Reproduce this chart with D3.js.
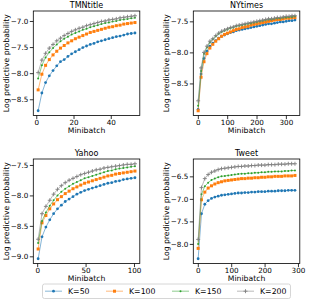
<!DOCTYPE html>
<html>
<head>
<meta charset="utf-8">
<script src="https://cdn.jsdelivr.net/npm/d3@7"></script>
<style>
  body { margin: 0; background: #fff; }
  text { font-family: "DejaVu Sans", sans-serif; }
</style>
</head>
<body>
<svg id="chart" width="309" height="300"></svg>
<script>
// ---- data ----
var seriesNames = ['K=50', 'K=100', 'K=150', 'K=200'];
var colors = ['#1f77b4', '#ff7f0e', '#2ca02c', '#7f7f7f'];

var tmnX = [1,3,5,7,9,11,13,15,17,19,21,23,25,27,29,31,33,35,37,39,41,43,45,47,49,51,53];
var tmnK50  = [-8.72,-8.38,-8.18,-8.05,-7.95,-7.86,-7.78,-7.74,-7.68,-7.63,-7.59,-7.55,-7.51,-7.48,-7.45,-7.43,-7.40,-7.38,-7.36,-7.34,-7.32,-7.30,-7.29,-7.27,-7.25,-7.24,-7.23];
var tmnK100 = [-8.32,-8.02,-7.85,-7.74,-7.65,-7.58,-7.52,-7.47,-7.42,-7.38,-7.34,-7.31,-7.28,-7.25,-7.22,-7.20,-7.18,-7.16,-7.14,-7.12,-7.11,-7.09,-7.08,-7.06,-7.05,-7.04,-7.03];
var tmnK150 = [-8.10,-7.85,-7.70,-7.60,-7.52,-7.45,-7.39,-7.34,-7.30,-7.26,-7.23,-7.20,-7.17,-7.15,-7.12,-7.10,-7.08,-7.06,-7.04,-7.03,-7.01,-7.00,-6.98,-6.97,-6.96,-6.95,-6.94];
var tmnK200 = [-7.99,-7.75,-7.62,-7.52,-7.45,-7.38,-7.33,-7.28,-7.24,-7.20,-7.17,-7.14,-7.12,-7.09,-7.07,-7.05,-7.03,-7.01,-7.00,-6.98,-6.97,-6.96,-6.94,-6.93,-6.92,-6.91,-6.90];

var nytX = [1,11,21,31,41,51,61,71,81,91,101,111,121,131,141,151,161,171,181,191,201,211,221,231,241,251,261,271,281,291,301,311,321,331];
var nytK50  = [-8.92,-8.35,-8.10,-7.98,-7.90,-7.85,-7.81,-7.77,-7.74,-7.72,-7.70,-7.68,-7.67,-7.65,-7.64,-7.63,-7.62,-7.61,-7.60,-7.59,-7.58,-7.57,-7.56,-7.55,-7.54,-7.54,-7.53,-7.52,-7.51,-7.51,-7.50,-7.49,-7.49,-7.48];
var nytK100 = [-8.94,-8.40,-8.15,-8.02,-7.93,-7.87,-7.82,-7.78,-7.74,-7.71,-7.69,-7.67,-7.65,-7.63,-7.62,-7.60,-7.59,-7.58,-7.56,-7.55,-7.54,-7.53,-7.52,-7.51,-7.50,-7.49,-7.48,-7.47,-7.47,-7.46,-7.45,-7.45,-7.44,-7.44];
var nytK150 = [-8.86,-8.30,-8.02,-7.92,-7.84,-7.79,-7.74,-7.70,-7.67,-7.65,-7.63,-7.61,-7.60,-7.58,-7.57,-7.56,-7.55,-7.54,-7.53,-7.52,-7.51,-7.50,-7.49,-7.48,-7.47,-7.47,-7.46,-7.45,-7.45,-7.44,-7.44,-7.43,-7.43,-7.42];
var nytK200 = [-8.78,-8.25,-8.00,-7.90,-7.82,-7.78,-7.73,-7.69,-7.66,-7.64,-7.62,-7.60,-7.59,-7.57,-7.56,-7.55,-7.54,-7.53,-7.52,-7.51,-7.50,-7.49,-7.48,-7.47,-7.46,-7.46,-7.45,-7.44,-7.44,-7.43,-7.42,-7.42,-7.41,-7.41];

var yahX = [1,5,9,13,17,21,25,29,33,37,41,45,49,53,57,61,65,69,73,77,81,85,89,93,97,101];
var yahK50  = [-9.04,-8.68,-8.52,-8.40,-8.30,-8.22,-8.16,-8.10,-8.06,-8.02,-7.98,-7.95,-7.92,-7.90,-7.88,-7.86,-7.84,-7.82,-7.80,-7.79,-7.77,-7.76,-7.74,-7.73,-7.72,-7.71];
var yahK100 = [-8.88,-8.45,-8.33,-8.22,-8.14,-8.07,-8.02,-7.97,-7.93,-7.89,-7.86,-7.83,-7.80,-7.78,-7.76,-7.74,-7.72,-7.70,-7.68,-7.67,-7.65,-7.64,-7.63,-7.62,-7.61,-7.60];
var yahK150 = [-8.78,-8.42,-8.28,-8.17,-8.08,-8.00,-7.94,-7.89,-7.85,-7.81,-7.78,-7.75,-7.72,-7.70,-7.68,-7.66,-7.64,-7.62,-7.60,-7.59,-7.57,-7.56,-7.55,-7.54,-7.53,-7.52];
var yahK200 = [-8.72,-8.30,-8.18,-8.08,-7.98,-7.90,-7.84,-7.79,-7.75,-7.72,-7.69,-7.66,-7.64,-7.62,-7.60,-7.58,-7.57,-7.55,-7.54,-7.53,-7.52,-7.51,-7.50,-7.49,-7.49,-7.48];

var twtX = [1,11,21,31,41,51,61,71,81,91,101,111,121,131,141,151,161,171,181,191,201,211,221,231,241,251,261,271,281,291];
var twtK50  = [-8.33,-7.33,-7.12,-7.04,-6.99,-6.96,-6.94,-6.92,-6.91,-6.90,-6.89,-6.88,-6.87,-6.87,-6.86,-6.86,-6.85,-6.85,-6.84,-6.84,-6.84,-6.83,-6.83,-6.83,-6.82,-6.82,-6.82,-6.81,-6.81,-6.81];
var twtK100 = [-8.10,-7.02,-6.85,-6.76,-6.71,-6.67,-6.64,-6.62,-6.60,-6.59,-6.58,-6.57,-6.56,-6.55,-6.55,-6.54,-6.54,-6.53,-6.53,-6.52,-6.52,-6.51,-6.51,-6.50,-6.50,-6.50,-6.49,-6.49,-6.49,-6.48];
var twtK150 = [-8.00,-6.90,-6.72,-6.64,-6.58,-6.55,-6.52,-6.50,-6.49,-6.48,-6.47,-6.46,-6.45,-6.44,-6.44,-6.43,-6.43,-6.42,-6.42,-6.41,-6.41,-6.40,-6.40,-6.39,-6.39,-6.39,-6.38,-6.38,-6.37,-6.37];
var twtK200 = [-7.90,-6.75,-6.55,-6.46,-6.41,-6.38,-6.35,-6.33,-6.32,-6.31,-6.30,-6.29,-6.28,-6.28,-6.27,-6.27,-6.26,-6.26,-6.25,-6.25,-6.25,-6.24,-6.24,-6.24,-6.23,-6.23,-6.23,-6.22,-6.22,-6.22];

var tmnXTicks = [0, 20, 40],       tmnYTicks = [-8.5, -8.0, -7.5, -7.0];
var nytXTicks = [0, 100, 200, 300], nytYTicks = [-8.5, -8.0, -7.5];
var yahXTicks = [0, 50, 100],      yahYTicks = [-9.0, -8.5, -8.0, -7.5];
var twtXTicks = [0, 100, 200, 300], twtYTicks = [-8.0, -7.5, -7.0, -6.5];

var panels = [
  {title: 'TMNtitle', x: tmnX, ys: [tmnK50, tmnK100, tmnK150, tmnK200], xt: tmnXTicks, yt: tmnYTicks, left: 33.3, top: 11},
  {title: 'NYtimes',  x: nytX, ys: [nytK50, nytK100, nytK150, nytK200], xt: nytXTicks, yt: nytYTicks, left: 193.3, top: 11},
  {title: 'Yahoo',    x: yahX, ys: [yahK50, yahK100, yahK150, yahK200], xt: yahXTicks, yt: yahYTicks, left: 33.3, top: 159},
  {title: 'Tweet',    x: twtX, ys: [twtK50, twtK100, twtK150, twtK200], xt: twtXTicks, yt: twtYTicks, left: 193.3, top: 159}
];
var pw = 106.5, ph = 104.5;

var svg = d3.select('#chart');
var fmt = function(d){ return d3.format('.1f')(d).replace('-', '\u2212'); };

// matplotlib-like 5% margins
function padded(ext){
    var m = (ext[1] - ext[0]) * 0.05;
    return [ext[0] - m, ext[1] + m];
}

function drawMarker(g, k, cx, cy){
    var c = colors[k];
    if (k == 0) {
        g.append('circle').attr('cx', cx).attr('cy', cy).attr('r', 1.4).attr('fill', c);
    } else if (k == 1) {
        g.append('rect').attr('x', cx-1.5).attr('y', cy-1.5).attr('width', 3).attr('height', 3).attr('fill', c);
    } else if (k == 2) {
        g.append('circle').attr('cx', cx).attr('cy', cy).attr('r', 1.0).attr('fill', c);
    } else {
        g.append('path').attr('d', 'M'+(cx-2)+','+cy+'h4M'+cx+','+(cy-2)+'v4')
            .attr('stroke', c).attr('stroke-width', 0.9);
    }
}

panels.forEach(function(p){
    var allY = [].concat.apply([], p.ys);
    var x = d3.scaleLinear().domain(padded(d3.extent(p.x))).range([p.left, p.left + pw]);
    var y = d3.scaleLinear().domain(padded(d3.extent(allY))).range([p.top + ph, p.top]);

    var g = svg.append('g');

    p.ys.forEach(function(vals, k){
        var pts = p.x.map(function(xv, i){ return [xv, vals[i]]; });
        g.append('path')
            .datum(pts)
            .attr('fill', 'none')
            .attr('stroke', colors[k])
            .attr('stroke-opacity', 0.55)
            .attr('stroke-width', 1)
            .attr('d', d3.line().x(function(d){ return x(d[0]); }).y(function(d){ return y(d[1]); }));
        pts.forEach(function(d){ drawMarker(g, k, x(d[0]), y(d[1])); });
    });

    var xa = g.append('g').attr('transform', 'translate(0,' + (p.top + ph) + ')')
        .call(d3.axisBottom(x).tickValues(p.xt).tickFormat(d3.format('d')).tickSize(3.5).tickPadding(0.5));
    var ya = g.append('g').attr('transform', 'translate(' + p.left + ',0)')
        .call(d3.axisLeft(y).tickValues(p.yt).tickFormat(fmt).tickSize(3.5).tickPadding(1.5));
    [xa, ya].forEach(function(a){
        a.select('.domain').remove();
        a.selectAll('line').attr('stroke', '#000').attr('stroke-width', 0.8);
        a.selectAll('text').attr('font-size', 7.2).attr('fill', '#000')
            .style('font-family', '"DejaVu Sans", sans-serif');
    });

    g.append('rect')
        .attr('x', p.left).attr('y', p.top).attr('width', pw).attr('height', ph)
        .attr('fill', 'none').attr('stroke', '#000').attr('stroke-width', 0.8);

    g.append('text').attr('x', p.left + pw/2).attr('y', p.top - 3)
        .attr('text-anchor', 'middle').attr('font-size', 8).text(p.title);
    g.append('text').attr('x', p.left + pw/2).attr('y', p.top + ph + 17.5)
        .attr('text-anchor', 'middle').attr('font-size', 7.7).text('Minibatch');
    g.append('text')
        .attr('transform', 'translate(' + (p.left - 24.5) + ',' + (p.top + ph/2) + ') rotate(-90)')
        .attr('text-anchor', 'middle').attr('font-size', 7.7).text('Log predictive probability');
});

// legend
var lg = svg.append('g');
lg.append('rect').attr('x', 42.5).attr('y', 284).attr('width', 248).attr('height', 14.5)
    .attr('rx', 2).attr('fill', '#fff').attr('fill-opacity', 0.85)
    .attr('stroke', '#ccc').attr('stroke-width', 0.8);
var legX = [45, 106, 172, 237];
seriesNames.forEach(function(name, k){
    var lx = legX[k], ly = 291.2;
    lg.append('line').attr('x1', lx).attr('x2', lx + 17).attr('y1', ly).attr('y2', ly)
        .attr('stroke', colors[k]).attr('stroke-opacity', 0.45).attr('stroke-width', 1.2);
    drawMarker(lg, k, lx + 8.5, ly);
    lg.append('text').attr('x', lx + 23).attr('y', ly + 2.8).attr('font-size', 7.8).text(name);
});
</script>
</body>
</html>
